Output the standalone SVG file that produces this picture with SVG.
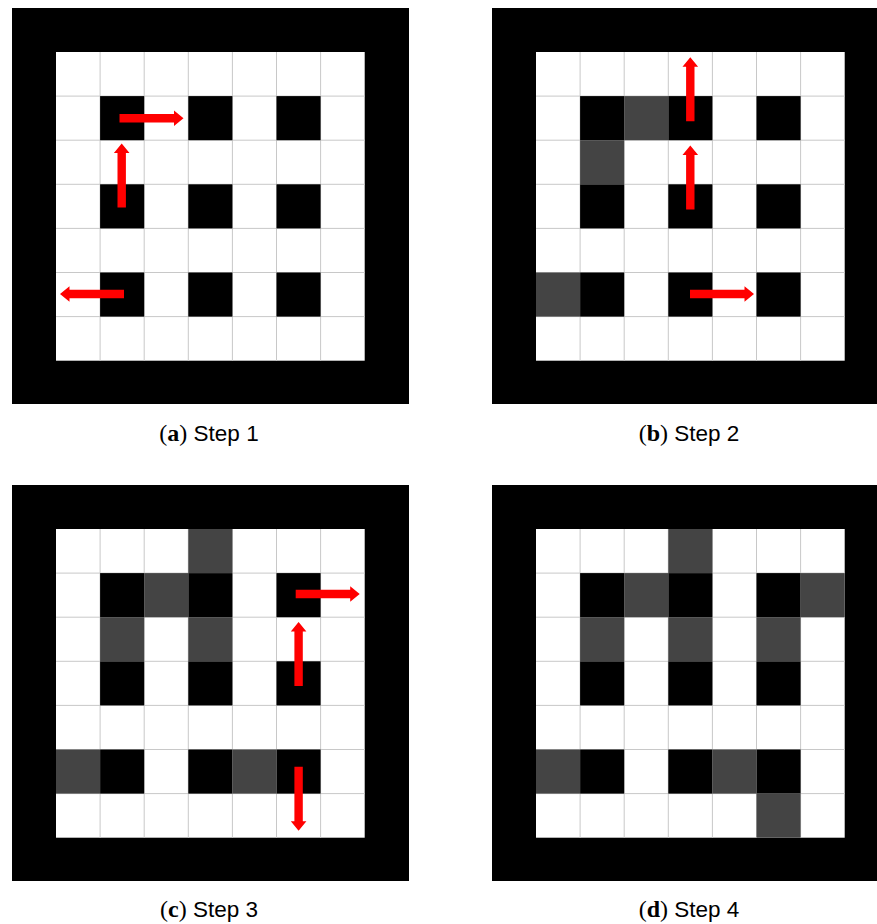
<svg xmlns="http://www.w3.org/2000/svg" xmlns:xlink="http://www.w3.org/1999/xlink" width="877" height="924" viewBox="0 0 877 924">
<style>
.outer{fill:#000}
.inner{fill:#fff}
.ln{stroke:#c8c8c8;stroke-width:1;fill:none}
.blk{fill:#000}
.gry{fill:#444}
.arr{fill:#f00}
.cap{font-size:24px;fill:#000}
.ser{font-family:"Liberation Serif",serif}
.sans{font-family:"Liberation Sans",Arial,sans-serif;font-size:22.5px}
</style>
<defs>
<g id="board">
<rect class="outer" x="-44" y="-44" width="397" height="396"/>
<rect class="inner" x="0" y="0" width="308.7" height="308.7"/>
<path class="ln" d="M44.1,0V308.7M88.2,0V308.7M132.3,0V308.7M176.4,0V308.7M220.5,0V308.7M264.6,0V308.7M0,44.1H308.7M0,88.2H308.7M0,132.3H308.7M0,176.4H308.7M0,220.5H308.7M0,264.6H308.7"/>
<rect class="blk" x="44.1" y="44.1" width="44.1" height="44.1"/>
<rect class="blk" x="132.3" y="44.1" width="44.1" height="44.1"/>
<rect class="blk" x="220.5" y="44.1" width="44.1" height="44.1"/>
<rect class="blk" x="44.1" y="132.3" width="44.1" height="44.1"/>
<rect class="blk" x="132.3" y="132.3" width="44.1" height="44.1"/>
<rect class="blk" x="220.5" y="132.3" width="44.1" height="44.1"/>
<rect class="blk" x="44.1" y="220.5" width="44.1" height="44.1"/>
<rect class="blk" x="132.3" y="220.5" width="44.1" height="44.1"/>
<rect class="blk" x="220.5" y="220.5" width="44.1" height="44.1"/>
</g>
<path id="arrow" class="arr" d="M0,-4.2H54.5V-7.8L64,0L54.5,7.8V4.2H0Z"/>
</defs>

<g id="panel-a" transform="translate(56,52)">
<use xlink:href="#board" href="#board"/>
<g id="arrows-a">
<use href="#arrow" xlink:href="#arrow" transform="translate(63.5,66.3)"/>
<use href="#arrow" xlink:href="#arrow" transform="translate(65.7,155.5) rotate(-90)"/>
<use href="#arrow" xlink:href="#arrow" transform="translate(68,242) rotate(180)"/>
</g>
</g>

<g id="panel-b" transform="translate(536,52)">
<use xlink:href="#board" href="#board"/>
<rect class="gry" x="88.2" y="44.1" width="44.1" height="44.1"/>
<rect class="gry" x="44.1" y="88.2" width="44.1" height="44.1"/>
<rect class="gry" x="0" y="220.5" width="44.1" height="44.1"/>
<g id="arrows-b">
<use href="#arrow" xlink:href="#arrow" transform="translate(154.3,69.3) rotate(-90)"/>
<use href="#arrow" xlink:href="#arrow" transform="translate(154.3,157.4) rotate(-90)"/>
<use href="#arrow" xlink:href="#arrow" transform="translate(154,242)"/>
</g>
</g>

<g id="panel-c" transform="translate(56,529)">
<use xlink:href="#board" href="#board"/>
<rect class="gry" x="132.3" y="0" width="44.1" height="44.1"/>
<rect class="gry" x="88.2" y="44.1" width="44.1" height="44.1"/>
<rect class="gry" x="44.1" y="88.2" width="44.1" height="44.1"/>
<rect class="gry" x="132.3" y="88.2" width="44.1" height="44.1"/>
<rect class="gry" x="0" y="220.5" width="44.1" height="44.1"/>
<rect class="gry" x="176.4" y="220.5" width="44.1" height="44.1"/>
<g id="arrows-c">
<use href="#arrow" xlink:href="#arrow" transform="translate(239.7,65)"/>
<use href="#arrow" xlink:href="#arrow" transform="translate(242.6,157) rotate(-90)"/>
<use href="#arrow" xlink:href="#arrow" transform="translate(242.6,237.7) rotate(90)"/>
</g>
</g>

<g id="panel-d" transform="translate(536,529)">
<use xlink:href="#board" href="#board"/>
<rect class="gry" x="132.3" y="0" width="44.1" height="44.1"/>
<rect class="gry" x="88.2" y="44.1" width="44.1" height="44.1"/>
<rect class="gry" x="264.6" y="44.1" width="44.1" height="44.1"/>
<rect class="gry" x="44.1" y="88.2" width="44.1" height="44.1"/>
<rect class="gry" x="132.3" y="88.2" width="44.1" height="44.1"/>
<rect class="gry" x="220.5" y="88.2" width="44.1" height="44.1"/>
<rect class="gry" x="0" y="220.5" width="44.1" height="44.1"/>
<rect class="gry" x="176.4" y="220.5" width="44.1" height="44.1"/>
<rect class="gry" x="220.5" y="264.6" width="44.1" height="44.1"/>
</g>

<g id="captions">
<text class="cap" x="209" y="441" text-anchor="middle"><tspan class="ser">(</tspan><tspan class="ser" font-weight="bold">a</tspan><tspan class="ser">)</tspan><tspan class="sans"> Step 1</tspan></text>
<text class="cap" x="689" y="441" text-anchor="middle"><tspan class="ser">(</tspan><tspan class="ser" font-weight="bold">b</tspan><tspan class="ser">)</tspan><tspan class="sans"> Step 2</tspan></text>
<text class="cap" x="209" y="917" text-anchor="middle"><tspan class="ser">(</tspan><tspan class="ser" font-weight="bold">c</tspan><tspan class="ser">)</tspan><tspan class="sans"> Step 3</tspan></text>
<text class="cap" x="689" y="917" text-anchor="middle"><tspan class="ser">(</tspan><tspan class="ser" font-weight="bold">d</tspan><tspan class="ser">)</tspan><tspan class="sans"> Step 4</tspan></text>
</g>
</svg>
